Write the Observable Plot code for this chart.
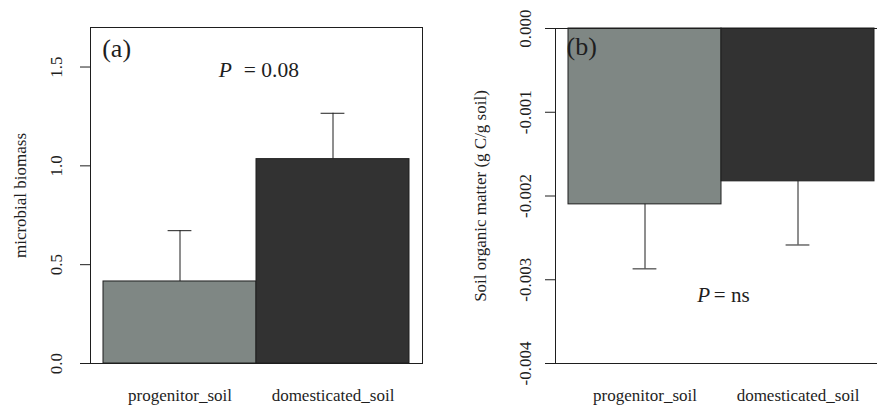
<!DOCTYPE html>
<html>
<head>
<meta charset="utf-8">
<script src="https://cdn.jsdelivr.net/npm/d3@7"></script>
<script src="https://cdn.jsdelivr.net/npm/@observablehq/plot@0.6"></script>
<style>
  html, body { margin: 0; padding: 0; background: #fff; overflow: hidden; }
  #fig { display: flex; width: 877px; height: 406px; overflow: hidden; }
  #fig svg { flex: none; }
  #fig svg, #fig svg text { font-family: "Liberation Serif", "Times New Roman", serif !important; }
</style>
</head>
<body>
<div id="fig"></div>
<script>
// Soil treatments (x categories)
const soils = ["progenitor_soil", "domesticated_soil"];

// Panel (a): microbial biomass, mean and standard error
const biomassMean = [0.415, 1.034];
const biomassSE = [0.257, 0.232];
const biomassTicks = [0, 0.5, 1.0, 1.5];

// Panel (b): change in soil organic matter (g C/g soil), mean and standard error
const somMean = [-0.00210, -0.001825];
const somSE = [0.00077, 0.00076];
const somTicks = [0, -0.001, -0.002, -0.003, -0.004];

// Bar fills per treatment
const fills = ["#7f8784", "#323232"];

const biomass = soils.map((soil, i) => ({soil, mean: biomassMean[i], se: biomassSE[i]}));
const som = soils.map((soil, i) => ({soil, mean: somMean[i], se: somSE[i]}));

const ink = "#1e1e1e";
const serif = "'Liberation Serif', 'Times New Roman', serif";
const capInset = 64.6;

const baseStyle = {fontFamily: serif, fontSize: "17px", color: ink, background: "white", overflow: "visible"};
const xScale = {domain: soils, paddingInner: 0, paddingOuter: 0.083, align: 0.5};
const colorScale = {domain: soils, range: fills};

const left = Plot.plot({
  width: 440,
  height: 406,
  marginLeft: 90,
  marginRight: 18,
  marginTop: 27,
  marginBottom: 43,
  style: baseStyle,
  x: xScale,
  y: {domain: [0, 1.7]},
  color: colorScale,
  marks: [
    Plot.barY(biomass, {x: "soil", y: "mean", fill: "soil", stroke: ink, strokeWidth: 1}),
    Plot.ruleX(biomass, {x: "soil", y1: "mean", y2: d => d.mean + d.se, stroke: ink, strokeWidth: 1}),
    Plot.tickY(biomass, {x: "soil", y: d => d.mean + d.se, inset: capInset, stroke: ink, strokeWidth: 1}),
    Plot.frame({stroke: ink, strokeWidth: 1}),
    Plot.axisY(biomassTicks, {
      tickSize: 10, tickPadding: 19, tickRotate: -90,
      tickFormat: d3.format(".1f"), fontSize: 17,
      label: "microbial biomass", labelAnchor: "center", labelOffset: 77, labelArrow: "none"
    }),
    Plot.axisX({tickSize: 0, tickPadding: 25, fontSize: 17, label: null}),
    Plot.text(["(a)"], {text: d => d, frameAnchor: "top-left", dx: 11.7, dy: 29, lineAnchor: "bottom", textAnchor: "start", fontSize: 26}),
    Plot.text(["P"], {text: d => d, frameAnchor: "top-left", dx: 128.3, dy: 49.7, lineAnchor: "bottom", textAnchor: "start", fontSize: 21.5, fontStyle: "italic"}),
    Plot.text(["= 0.08"], {text: d => d, frameAnchor: "top-left", dx: 153.3, dy: 49.7, lineAnchor: "bottom", textAnchor: "start", fontSize: 21.5})
  ]
});

const right = Plot.plot({
  width: 450,
  height: 406,
  marginLeft: 115,
  marginRight: 3,
  marginTop: 28,
  marginBottom: 43,
  style: baseStyle,
  x: xScale,
  y: {domain: [-0.004, 0]},
  color: colorScale,
  marks: [
    Plot.barY(som, {x: "soil", y1: 0, y2: "mean", fill: "soil", stroke: ink, strokeWidth: 1}),
    Plot.ruleX(som, {x: "soil", y1: "mean", y2: d => d.mean - d.se, stroke: ink, strokeWidth: 1}),
    Plot.tickY(som, {x: "soil", y: d => d.mean - d.se, inset: capInset, stroke: ink, strokeWidth: 1}),
    Plot.frame({stroke: ink, strokeWidth: 1}),
    Plot.axisY(somTicks, {
      tickSize: 10, tickPadding: 15, tickRotate: -90,
      tickFormat: d => d.toFixed(3), fontSize: 17,
      label: "Soil organic matter (g C/g soil)", labelAnchor: "center", labelOffset: 82, labelArrow: "none"
    }),
    Plot.axisX({tickSize: 0, tickPadding: 25, fontSize: 17, label: null}),
    Plot.text(["(b)"], {text: d => d, frameAnchor: "top-left", dx: 11, dy: 26, lineAnchor: "bottom", textAnchor: "start", fontSize: 26}),
    Plot.text(["P"], {text: d => d, frameAnchor: "top-left", dx: 141.7, dy: 273.7, lineAnchor: "bottom", textAnchor: "start", fontSize: 21, fontStyle: "italic"}),
    Plot.text(["= ns"], {text: d => d, frameAnchor: "top-left", dx: 158.3, dy: 273.7, lineAnchor: "bottom", textAnchor: "start", fontSize: 21})
  ]
});

const fig = document.getElementById("fig");
fig.append(left, right);
</script>
</body>
</html>
